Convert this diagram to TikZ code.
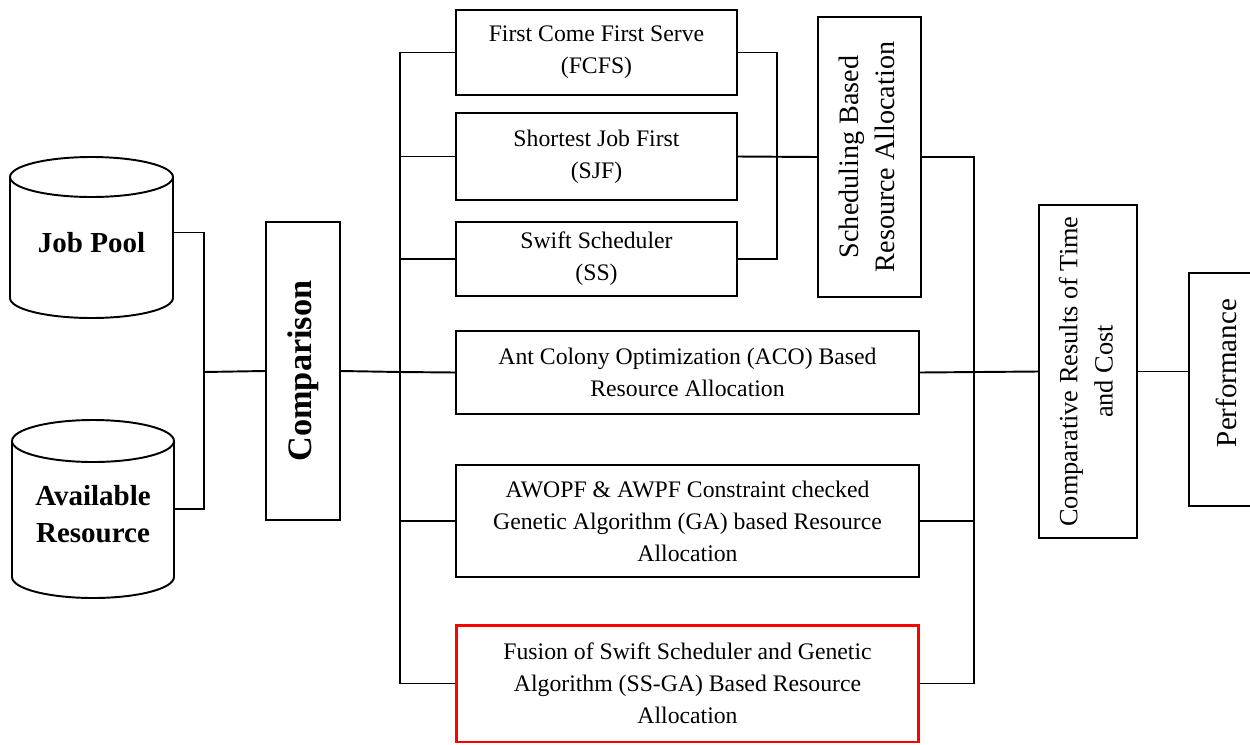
\documentclass[tikz,border=0pt]{standalone}
\usepackage{fontspec}
\setmainfont{Liberation Serif}
\begin{document}
\begin{tikzpicture}[x=0.02cm,y=-0.02cm,
  ln/.style={line width=1.1pt},
  box/.style={draw, line width=1.1pt, inner sep=0pt, align=center, font=\fontsize{13.5}{18.2}\selectfont},
  redbox/.style={box, draw=red, line width=1.7pt},
  cylbody/.style={inner sep=0pt, align=center, font=\bfseries\fontsize{16.5}{21.5}\selectfont},
  vtext/.style={draw, line width=1.1pt, inner sep=0pt}
]
\useasboundingbox (0,0) rectangle (1250,744);

% cylinders
\draw[ln] (91.5,177) ellipse [x radius=1.63cm, y radius=0.4cm];
\draw[ln] (10,177) -- (10,298) arc[start angle=180, end angle=360, x radius=1.63cm, y radius=0.4cm] -- (173,177);
\node[cylbody, minimum width=3.26cm, minimum height=3.26cm] (jp) at (91.5,236.5) {\raisebox{-9.3pt}[0pt][0pt]{Job Pool}};

\draw[ln] (93,441) ellipse [x radius=1.62cm, y radius=0.42cm];
\draw[ln] (12,441) -- (12,577) arc[start angle=180, end angle=360, x radius=1.62cm, y radius=0.42cm] -- (174,441);
\node[cylbody, minimum width=3.24cm, minimum height=3.56cm] (ar) at (93,509) {\raisebox{-19.3pt}[0pt][0pt]{\begin{tabular}[b]{@{}c@{}}Available\\Resource\end{tabular}}};

% comparison
\node[vtext, minimum width=1.48cm, minimum height=5.96cm] (comp) at (303,371)
  {\rotatebox{90}{\bfseries\fontsize{19.5}{22}\selectfont Comparison}};

% scheduling boxes
\node[box, minimum width=5.62cm, minimum height=1.70cm] (fcfs) at (596.5,52.5) {First Come First Serve\\(FCFS)};
\node[box, minimum width=5.62cm, minimum height=1.74cm] (sjf) at (596.5,156.5) {Shortest Job First\\(SJF)};
\node[box, minimum width=5.62cm, minimum height=1.48cm] (ss) at (596.5,259) {Swift Scheduler\\(SS)};
\node[vtext, minimum width=2.06cm, minimum height=5.60cm] (sched) at (869.5,157)
  {\rotatebox{90}{\fontsize{16}{20}\selectfont\begin{tabular}{@{}c@{}}Scheduling Based\\Resource Allocation\end{tabular}}};

% other methods
\node[box, minimum width=9.26cm, minimum height=1.66cm] (aco) at (687.5,372.5) {Ant Colony Optimization (ACO) Based\\Resource Allocation};
\node[box, minimum width=9.26cm, minimum height=2.24cm] (awopf) at (687.5,521) {AWOPF \& AWPF Constraint checked\\Genetic Algorithm (GA) based Resource\\Allocation};
\node[redbox, minimum width=9.26cm, minimum height=2.34cm] (fusion) at (687.5,683.5) {Fusion of Swift Scheduler and Genetic\\Algorithm (SS-GA) Based Resource\\Allocation};

% results
\node[vtext, minimum width=1.96cm, minimum height=6.66cm] (cmpres) at (1088,371.5)
  {\rotatebox{90}{\fontsize{15}{20}\selectfont\begin{tabular}{@{}c@{}}Comparative Results of Time\\and Cost\end{tabular}}};
\node[vtext, minimum width=1.48cm, minimum height=4.66cm] (perf) at (1226,389.5)
  {\rotatebox{90}{\fontsize{16.5}{20}\selectfont\hspace*{0.66cm}Performance}};

% junction coordinates
\coordinate (lj) at (204,372);
\coordinate (lb) at (400,372);
\coordinate (rs) at (777,156.5);
\coordinate (rb) at (974,372);

% connectors
\draw[ln] ([yshift=0.08cm]jp.east) -| (lj) |- (ar.east);
\draw[ln] (lj) -- (comp.west);
\draw[ln] (comp.east) -- (lb);
\draw[ln] (fcfs.west) -| (lb) |- (fusion.west);
\draw[ln] (sjf.west) -- (sjf.west -| lb);
\draw[ln] (ss.west) -- (ss.west -| lb);
\draw[ln] (lb) -- (aco.west);
\draw[ln] (awopf.west) -- (awopf.west -| lb);
\draw[ln] (fcfs.east) -| (rs) |- (ss.east);
\draw[ln] (sjf.east) -- (sched.west);
\draw[ln] (sched.east) -| (rb) |- (fusion.east);
\draw[ln] (aco.east) -- (cmpres.west);
\draw[ln] (awopf.east) -- (awopf.east -| rb);
\draw[ln] (cmpres.east) -- (cmpres.east -| perf.west);
\end{tikzpicture}
\end{document}
